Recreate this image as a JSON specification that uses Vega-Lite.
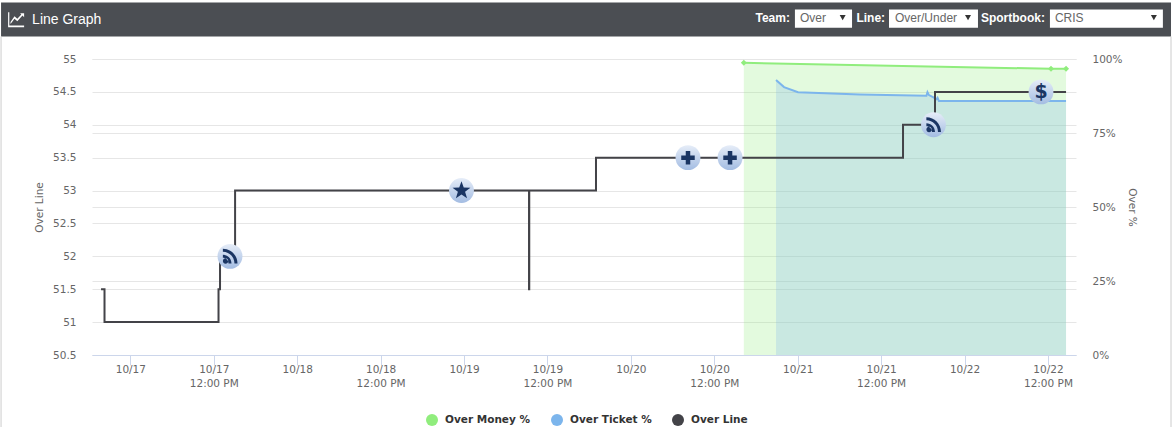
{"$schema":"https://vega.github.io/schema/vega-lite/v6.json","width":984,"height":296,"autosize":"none","padding":{"left":92,"top":59,"right":96,"bottom":72},"background":"#ffffff",
"datasets":{
"line":[{"t":"2018-10-16T19:47:00Z","v":51.5},{"t":"2018-10-16T20:17:00Z","v":51},{"t":"2018-10-17T12:41:00Z","v":51.5},{"t":"2018-10-17T12:54:00Z","v":52},{"t":"2018-10-17T15:04:00Z","v":53},{"t":"2018-10-19T09:21:00Z","v":51.5},{"t":"2018-10-19T09:23:00Z","v":53},{"t":"2018-10-19T18:59:00Z","v":53.5},{"t":"2018-10-21T15:09:00Z","v":54},{"t":"2018-10-21T19:45:00Z","v":54.5},{"t":"2018-10-22T14:36:00Z","v":54.5}],
"money":[{"t":"2018-10-20T16:15:00Z","p":98.7},{"t":"2018-10-22T12:26:00Z","p":96.7},{"t":"2018-10-22T14:36:00Z","p":96.7}],
"ticket":[{"t":"2018-10-20T20:53:00Z","p":92.9},{"t":"2018-10-20T22:02:00Z","p":90.5},{"t":"2018-10-21T00:03:00Z","p":88.8},{"t":"2018-10-21T08:58:00Z","p":88.0},{"t":"2018-10-21T18:31:00Z","p":87.6},{"t":"2018-10-21T18:40:00Z","p":88.8},{"t":"2018-10-21T18:53:00Z","p":87.8},{"t":"2018-10-21T19:28:00Z","p":87.1},{"t":"2018-10-21T19:58:00Z","p":86.4},{"t":"2018-10-21T20:07:00Z","p":86.9},{"t":"2018-10-21T20:19:00Z","p":85.8},{"t":"2018-10-22T14:36:00Z","p":85.8}],
"events":[{"t":"2018-10-17T14:20:00Z","v":52,"icon":"rss"},{"t":"2018-10-18T23:38:00Z","v":53,"icon":"star"},{"t":"2018-10-20T08:13:00Z","v":53.5,"icon":"plus"},{"t":"2018-10-20T14:16:00Z","v":53.5,"icon":"plus"},{"t":"2018-10-21T19:32:00Z","v":54,"icon":"rss"},{"t":"2018-10-22T11:00:00Z","v":54.5,"icon":"dollar"}],
"legend":[{"series":"Over Money %"},{"series":"Over Ticket %"},{"series":"Over Line"}]
},
"data":{"name":"line"},
"layer":[
{"data":{"name":"money"},"mark":{"type":"area","color":"#90ed7d","opacity":0.25},"encoding":{"x":{"field":"t","type":"temporal","scale":{"type":"utc","domain":["2018-10-16T18:29:00Z","2018-10-22T16:02:00Z"]},"axis":{"title":null,"grid":false,"values":[{"year":2018,"month":10,"date":17,"hours":0,"utc":true},{"year":2018,"month":10,"date":17,"hours":12,"utc":true},{"year":2018,"month":10,"date":18,"hours":0,"utc":true},{"year":2018,"month":10,"date":18,"hours":12,"utc":true},{"year":2018,"month":10,"date":19,"hours":0,"utc":true},{"year":2018,"month":10,"date":19,"hours":12,"utc":true},{"year":2018,"month":10,"date":20,"hours":0,"utc":true},{"year":2018,"month":10,"date":20,"hours":12,"utc":true},{"year":2018,"month":10,"date":21,"hours":0,"utc":true},{"year":2018,"month":10,"date":21,"hours":12,"utc":true},{"year":2018,"month":10,"date":22,"hours":0,"utc":true},{"year":2018,"month":10,"date":22,"hours":12,"utc":true}],"labelExpr":"utcFormat(datum.value,'%H')=='12' ? [utcFormat(datum.value,'%m/%d'),'12:00 PM'] : utcFormat(datum.value,'%m/%d')","labelFont":"DejaVu Sans","labelFontSize":10.5,"labelColor":"#666666","labelLineHeight":14,"labelOverlap":false,"labelFlush":false,"labelPadding":-1,"labelBaseline":"top","tickSize":10,"tickColor":"#ccd6eb","domainColor":"#ccd6eb"}},"y":{"field":"p","type":"quantitative","scale":{"domain":[0,100]},"axis":{"orient":"right","title":"Over %","titleAngle":90,"titleFont":"DejaVu Sans","titleFontSize":10.5,"titleFontWeight":"normal","titleColor":"#666666","titlePadding":4,"values":[0,25,50,75,100],"labelExpr":"datum.value+'%'","labelFont":"DejaVu Sans","labelFontSize":10.5,"labelColor":"#666666","labelPadding":16,"ticks":false,"domain":false,"grid":true,"gridColor":"#e6e6e6"}}}},
{"data":{"name":"ticket"},"mark":{"type":"area","color":"#7cb5ec","opacity":0.25},"encoding":{"x":{"field":"t","type":"temporal"},"y":{"field":"p","type":"quantitative","scale":{"domain":[0,100]},"axis":null}}},
{"data":{"name":"money"},"mark":{"type":"line","color":"#90ed7d","strokeWidth":2},"encoding":{"x":{"field":"t","type":"temporal"},"y":{"field":"p","type":"quantitative","scale":{"domain":[0,100]},"axis":null}}},
{"data":{"name":"money"},"mark":{"type":"point","shape":"diamond","filled":true,"color":"#90ed7d","opacity":1,"size":36},"encoding":{"x":{"field":"t","type":"temporal"},"y":{"field":"p","type":"quantitative","scale":{"domain":[0,100]},"axis":null}}},
{"data":{"name":"ticket"},"mark":{"type":"line","color":"#7cb5ec","strokeWidth":2},"encoding":{"x":{"field":"t","type":"temporal"},"y":{"field":"p","type":"quantitative","scale":{"domain":[0,100]},"axis":null}}},
{"mark":{"type":"line","color":"#434348","strokeWidth":2,"interpolate":"step-after"},"encoding":{"x":{"field":"t","type":"temporal"},"y":{"field":"v","type":"quantitative","scale":{"domain":[50.5,55]},"axis":{"title":"Over Line","titleFont":"DejaVu Sans","titleFontSize":10.5,"titleFontWeight":"normal","titleColor":"#666666","titlePadding":8,"values":[50.5,51,51.5,52,52.5,53,53.5,54,54.5,55],"format":"~g","labelFont":"DejaVu Sans","labelFontSize":10.5,"labelColor":"#666666","labelPadding":16,"ticks":false,"domain":false,"grid":true,"gridColor":"#e6e6e6"}}}},
{"data":{"name":"events"},"mark":{"type":"point","shape":"circle","filled":true,"opacity":1,"size":620,"color":{"gradient":"linear","x1":0,"y1":0,"x2":0,"y2":1,"stops":[{"offset":0,"color":"#e6edf8"},{"offset":1,"color":"#a3bce2"}]}},"encoding":{"x":{"field":"t","type":"temporal"},"y":{"field":"v","type":"quantitative","scale":{"domain":[50.5,55]},"axis":null}}},
{"data":{"name":"events"},"transform":[{"filter":"datum.icon!='dollar'"}],"mark":{"type":"point","filled":true,"opacity":1,"color":"#1a3563","size":225},"encoding":{"x":{"field":"t","type":"temporal"},"y":{"field":"v","type":"quantitative","scale":{"domain":[50.5,55]},"axis":null},"shape":{"field":"icon","type":"nominal","legend":null,"scale":{"domain":["rss","star","plus"],"range":["M-0.95,0.62 a0.36,0.36 0 1,0 0.72,0 a0.36,0.36 0 1,0 -0.72,0 Z M-0.95,-0.2 A1.15,1.15 0 0 1 0.2,0.95 H-0.2 A0.75,0.75 0 0 0 -0.95,0.2 Z M-0.95,-1 A1.95,1.95 0 0 1 1,0.95 H0.6 A1.55,1.55 0 0 0 -0.95,-0.6 Z","M0,-1.25 L0.3,-0.41 L1.19,-0.39 L0.48,0.16 L0.74,1.01 L0,0.51 L-0.74,1.01 L-0.48,0.16 L-1.19,-0.39 L-0.3,-0.41Z","M-0.3,-0.9H0.3V-0.3H0.9V0.3H0.3V0.9H-0.3V0.3H-0.9V-0.3H-0.3Z"]}}}},
{"data":{"name":"events"},"transform":[{"filter":"datum.icon=='dollar'"}],"mark":{"type":"text","text":"$","font":"DejaVu Sans","fontWeight":"bold","fontSize":19,"color":"#1a3563","baseline":"middle","align":"center"},"encoding":{"x":{"field":"t","type":"temporal"},"y":{"field":"v","type":"quantitative","scale":{"domain":[50.5,55]},"axis":null}}},
{"data":{"name":"legend"},"transform":[{"filter":"false"}],"mark":{"type":"point","filled":true,"opacity":1},"encoding":{"x":{"datum":{"year":2018,"month":10,"date":19,"utc":true},"type":"temporal"},"y":{"datum":52,"type":"quantitative","scale":{"domain":[50.5,55]},"axis":null},
"color":{"field":"series","type":"nominal","scale":{"domain":["Over Money %","Over Ticket %","Over Line"],"range":["#90ed7d","#7cb5ec","#434348"]},"legend":{"title":null,"orient":"none","legendX":334,"legendY":355,"direction":"horizontal","columns":3,"symbolSize":144,"symbolStrokeWidth":0,"labelFont":"DejaVu Sans","labelFontWeight":"bold","labelFontSize":10.5,"labelColor":"#333333","columnPadding":20,"labelOffset":7,"encoding":{"symbols":{"shape":{"signal":"datum.value=='Over Line' ? 'M-1.33,-0.17H-0.7V0.17H-1.33Z M-0.45,0 L0,-0.45 L0.45,0 L0,0.45Z M0.7,-0.17H1.33V0.17H0.7Z' : 'circle'"}}}}}}},
{"data":{"values":[{"part":"header"}]},"mark":{"type":"rect","color":"#4b4e53"},"encoding":{"x":{"datum":{"year":2018,"month":10,"date":16,"hours":5,"minutes":24,"utc":true},"type":"temporal"},"x2":{"datum":{"year":2018,"month":10,"date":23,"hours":5,"minutes":42,"utc":true}},"y":{"datum":55.859,"type":"quantitative","scale":{"domain":[50.5,55]},"axis":null},"y2":{"datum":55.342}}},
{"data":{"values":[{"part":"box"}]},"mark":{"type":"rect","color":"#ffffff"},"encoding":{"x":{"datum":{"year":2018,"month":10,"date":20,"hours":23,"minutes":36,"utc":true},"type":"temporal"},"x2":{"datum":{"year":2018,"month":10,"date":21,"hours":7,"minutes":49,"utc":true}},"y":{"datum":55.7525,"type":"quantitative","scale":{"domain":[50.5,55]},"axis":null},"y2":{"datum":55.474}}},
{"data":{"values":[{"part":"box"}]},"mark":{"type":"rect","color":"#ffffff"},"encoding":{"x":{"datum":{"year":2018,"month":10,"date":21,"hours":13,"minutes":8,"utc":true},"type":"temporal"},"x2":{"datum":{"year":2018,"month":10,"date":22,"hours":1,"minutes":56,"utc":true}},"y":{"datum":55.7525,"type":"quantitative","scale":{"domain":[50.5,55]},"axis":null},"y2":{"datum":55.474}}},
{"data":{"values":[{"part":"box"}]},"mark":{"type":"rect","color":"#ffffff"},"encoding":{"x":{"datum":{"year":2018,"month":10,"date":22,"hours":12,"minutes":17,"utc":true},"type":"temporal"},"x2":{"datum":{"year":2018,"month":10,"date":23,"hours":4,"minutes":32,"utc":true}},"y":{"datum":55.7525,"type":"quantitative","scale":{"domain":[50.5,55]},"axis":null},"y2":{"datum":55.474}}},
{"data":{"values":[{"label":"Line Graph"}]},"mark":{"type":"text","align":"left","baseline":"middle","font":"Liberation Sans","fontSize":14,"color":"#ffffff"},"encoding":{"text":{"field":"label"},"x":{"datum":{"year":2018,"month":10,"date":16,"hours":9,"minutes":52,"utc":true},"type":"temporal"},"y":{"datum":55.6,"type":"quantitative","scale":{"domain":[50.5,55]},"axis":null}}},
{"data":{"values":[{"part":"icon"}]},"mark":{"type":"point","filled":true,"opacity":1,"color":"#ffffff","size":256,"shape":"M-1,-0.9 H-0.85 V0.75 H1 V0.95 H-1 Z M-0.7,0.55 L-0.2,-0.1 L0.15,0.2 L0.8,-0.5 L1,-0.3 V-0.8 H0.5 L0.65,-0.62 L0.15,-0.1 L-0.2,-0.4 L-0.7,0.3Z"},"encoding":{"x":{"datum":{"year":2018,"month":10,"date":16,"hours":7,"minutes":34,"utc":true},"type":"temporal"},"y":{"datum":55.6,"type":"quantitative","scale":{"domain":[50.5,55]},"axis":null}}},
{"data":{"values":[{"label":"Team:"}]},"mark":{"type":"text","align":"right","baseline":"middle","font":"Liberation Sans","fontWeight":"bold","fontSize":12,"color":"#ffffff"},"encoding":{"text":{"field":"label"},"x":{"datum":{"year":2018,"month":10,"date":20,"hours":22,"minutes":53,"utc":true},"type":"temporal"},"y":{"datum":55.616,"type":"quantitative","scale":{"domain":[50.5,55]},"axis":null}}},
{"data":{"values":[{"label":"Line:"}]},"mark":{"type":"text","align":"right","baseline":"middle","font":"Liberation Sans","fontWeight":"bold","fontSize":12,"color":"#ffffff"},"encoding":{"text":{"field":"label"},"x":{"datum":{"year":2018,"month":10,"date":21,"hours":12,"minutes":34,"utc":true},"type":"temporal"},"y":{"datum":55.616,"type":"quantitative","scale":{"domain":[50.5,55]},"axis":null}}},
{"data":{"values":[{"label":"Sportbook:"}]},"mark":{"type":"text","align":"right","baseline":"middle","font":"Liberation Sans","fontWeight":"bold","fontSize":12,"color":"#ffffff"},"encoding":{"text":{"field":"label"},"x":{"datum":{"year":2018,"month":10,"date":22,"hours":11,"minutes":34,"utc":true},"type":"temporal"},"y":{"datum":55.616,"type":"quantitative","scale":{"domain":[50.5,55]},"axis":null}}},
{"data":{"values":[{"label":"Over"}]},"mark":{"type":"text","align":"left","baseline":"middle","font":"Liberation Sans","fontSize":12,"color":"#666666"},"encoding":{"text":{"field":"label"},"x":{"datum":{"year":2018,"month":10,"date":21,"hours":0,"minutes":20,"utc":true},"type":"temporal"},"y":{"datum":55.616,"type":"quantitative","scale":{"domain":[50.5,55]},"axis":null}}},
{"data":{"values":[{"label":"Over/Under"}]},"mark":{"type":"text","align":"left","baseline":"middle","font":"Liberation Sans","fontSize":12,"color":"#666666"},"encoding":{"text":{"field":"label"},"x":{"datum":{"year":2018,"month":10,"date":21,"hours":14,"minutes":0,"utc":true},"type":"temporal"},"y":{"datum":55.616,"type":"quantitative","scale":{"domain":[50.5,55]},"axis":null}}},
{"data":{"values":[{"label":"CRIS"}]},"mark":{"type":"text","align":"left","baseline":"middle","font":"Liberation Sans","fontSize":12,"color":"#666666"},"encoding":{"text":{"field":"label"},"x":{"datum":{"year":2018,"month":10,"date":22,"hours":13,"minutes":0,"utc":true},"type":"temporal"},"y":{"datum":55.616,"type":"quantitative","scale":{"domain":[50.5,55]},"axis":null}}},
{"data":{"values":[{"part":"arrow"}]},"mark":{"type":"point","shape":"triangle-down","filled":true,"opacity":1,"color":"#333333","size":36},"encoding":{"x":{"datum":{"year":2018,"month":10,"date":21,"hours":6,"minutes":28,"utc":true},"type":"temporal"},"y":{"datum":55.63,"type":"quantitative","scale":{"domain":[50.5,55]},"axis":null}}},
{"data":{"values":[{"part":"arrow"}]},"mark":{"type":"point","shape":"triangle-down","filled":true,"opacity":1,"color":"#333333","size":36},"encoding":{"x":{"datum":{"year":2018,"month":10,"date":22,"hours":0,"minutes":30,"utc":true},"type":"temporal"},"y":{"datum":55.63,"type":"quantitative","scale":{"domain":[50.5,55]},"axis":null}}},
{"data":{"values":[{"part":"arrow"}]},"mark":{"type":"point","shape":"triangle-down","filled":true,"opacity":1,"color":"#333333","size":36},"encoding":{"x":{"datum":{"year":2018,"month":10,"date":23,"hours":3,"minutes":14,"utc":true},"type":"temporal"},"y":{"datum":55.63,"type":"quantitative","scale":{"domain":[50.5,55]},"axis":null}}},
{"data":{"values":[{"part":"border"}]},"mark":{"type":"rule","color":"#cccccc","strokeWidth":1},"encoding":{"x":{"datum":{"year":2018,"month":10,"date":16,"hours":5,"minutes":24,"utc":true},"type":"temporal"},"y":{"datum":55.342,"type":"quantitative","scale":{"domain":[50.5,55]},"axis":null},"y2":{"datum":49.4}}},
{"data":{"values":[{"part":"border"}]},"mark":{"type":"rule","color":"#cccccc","strokeWidth":1},"encoding":{"x":{"datum":{"year":2018,"month":10,"date":23,"hours":5,"minutes":42,"utc":true},"type":"temporal"},"y":{"datum":55.342,"type":"quantitative","scale":{"domain":[50.5,55]},"axis":null},"y2":{"datum":49.4}}}
],
"resolve":{"scale":{"y":"independent"},"axis":{"y":"independent"}},
"config":{"view":{"stroke":null}}}
